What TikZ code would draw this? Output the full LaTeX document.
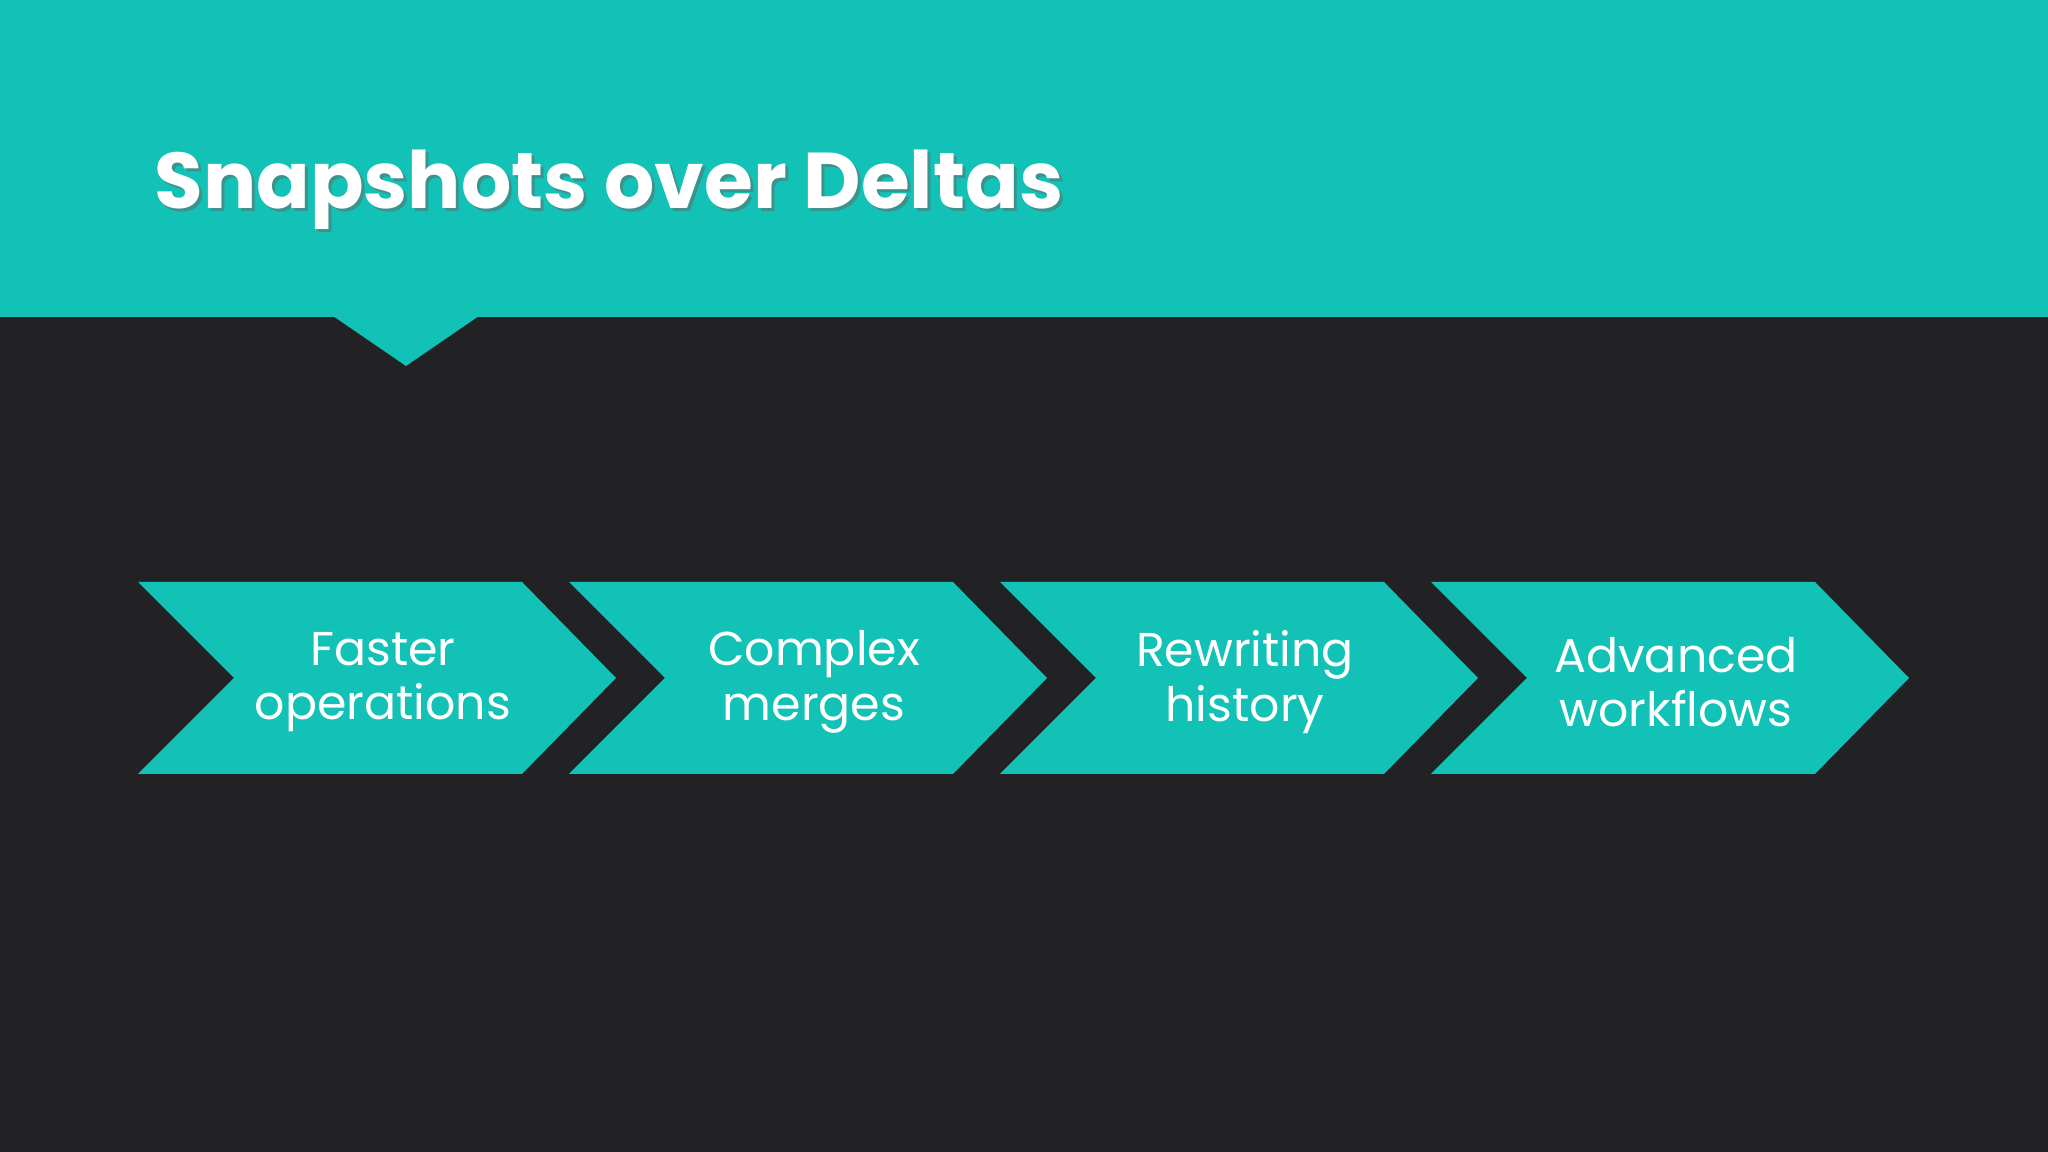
\documentclass[tikz,border=0pt]{standalone}
\usepackage{fontspec}
\setmainfont{Poppins}
\usetikzlibrary{positioning, calc}
\definecolor{teal1}{HTML}{12C2B6}
\definecolor{bgdark}{HTML}{222224}
\begin{document}
\begin{tikzpicture}
			% Background and header band
			\fill[bgdark] (0, 0) rectangle (20.48, 11.52);
			\fill[teal1] (0, 8.35) rectangle (20.48, 11.52);
			\fill[teal1] (3.33, 8.36) -- (4.06, 7.86) -- (4.79, 8.36) -- cycle;
			
			% Title
			\node[anchor=base west, text=black!60, opacity=0.5, font=\fontsize{22.5}{26}\selectfont\bfseries] at (1.45, 9.40) {Snapshots over Deltas};
			\node[anchor=base west, text=white, font=\fontsize{22.5}{26}\selectfont\bfseries] (title) at (1.42, 9.43) {Snapshots over Deltas};
			
			% Chevrons
			\foreach \i/\txt in {0/{Faster\\operations}, 1/{Complex\\merges}, 2/{Rewriting\\history}, 3/{Advanced\\workflows}} {
				\pgfmathsetmacro{\xo}{1.38 + 4.31*\i}
				\fill[teal1] (\xo, 5.70) -- ++(3.84, 0) -- ++(0.94, -0.96) -- ++(-0.94, -0.96) -- ++(-3.84, 0) -- ++(0.96, 0.96) -- cycle;
				\node[align=center, text=white, font=\fontsize{13.5}{15.5}\selectfont] (c\i) at (\xo + 2.45, 4.70) {\txt};
			}
		\end{tikzpicture}
\end{document}
